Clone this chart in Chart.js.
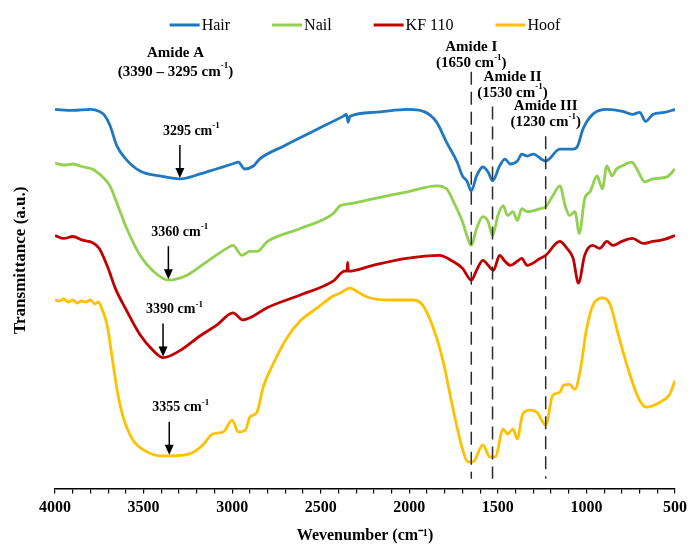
<!DOCTYPE html>
<html>
<head>
<meta charset="utf-8">
<title>FTIR spectra</title>
<script src="https://cdn.jsdelivr.net/npm/chart.js@4.4.1/dist/chart.umd.min.js"></script>
<style>
  html, body { margin: 0; padding: 0; background: #ffffff; }
  #wrap { width: 689px; height: 545px; }
</style>
</head>
<body>
<div id="wrap"><canvas id="ftir" width="689" height="545"></canvas></div>
<script>
// Wavenumbers (cm-1) and stacked transmittance (a.u.) for each sample
const hairWavenumber = [4000, 3900, 3800, 3750, 3720, 3690, 3650, 3600, 3520, 3410, 3295, 3180, 3090, 3000, 2965, 2930, 2880, 2845, 2710, 2520, 2375, 2355, 2345, 2335, 2200, 2010, 1920, 1845, 1790, 1730, 1700, 1675, 1650, 1620, 1585, 1555, 1530, 1490, 1460, 1430, 1390, 1365, 1335, 1300, 1230, 1150, 1075, 1050, 1020, 965, 885, 795, 740, 700, 665, 625, 560, 500];
const hairTransmittance = [382, 381, 382, 380, 376, 366, 345, 332, 320, 315, 312, 317, 322, 327, 329, 322, 325, 332, 345, 362, 375, 377, 369, 375, 379, 382, 380, 369, 349, 329, 315, 310, 300, 315, 324, 319, 310, 325, 332, 327, 330, 337, 335, 337, 330, 342, 342, 345, 362, 377, 382, 380, 377, 379, 370, 377, 379, 382];

const nailWavenumber = [4000, 3950, 3900, 3840, 3790, 3750, 3720, 3690, 3645, 3595, 3520, 3445, 3360, 3255, 3140, 3030, 2995, 2945, 2900, 2860, 2800, 2615, 2430, 2390, 2335, 2205, 2010, 1845, 1790, 1740, 1700, 1675, 1650, 1620, 1585, 1555, 1530, 1500, 1470, 1445, 1415, 1390, 1365, 1335, 1260, 1230, 1190, 1150, 1120, 1095, 1065, 1040, 1010, 980, 940, 910, 885, 855, 830, 800, 745, 715, 670, 625, 545, 500];
const nailTransmittance = [328, 326, 327, 324, 322, 317, 312, 305, 285, 262, 235, 219, 210, 215, 229, 242, 245, 235, 239, 239, 249, 262, 277, 285, 287, 292, 299, 305, 302, 285, 269, 255, 245, 262, 274, 269, 255, 275, 285, 275, 279, 270, 282, 279, 282, 284, 295, 305, 285, 275, 279, 257, 292, 299, 315, 302, 325, 315, 322, 325, 329, 322, 309, 312, 314, 322];

const kfWavenumber = [4000, 3950, 3900, 3840, 3790, 3750, 3700, 3660, 3595, 3520, 3445, 3390, 3295, 3180, 3085, 2995, 2940, 2880, 2805, 2615, 2430, 2365, 2352, 2348, 2344, 2205, 2015, 1830, 1755, 1700, 1650, 1620, 1585, 1555, 1525, 1490, 1460, 1430, 1390, 1365, 1335, 1260, 1230, 1150, 1110, 1075, 1045, 1010, 965, 925, 885, 850, 800, 740, 680, 625, 560, 500];
const kfTransmittance = [255, 252, 254, 250, 248, 242, 222, 202, 179, 155, 139, 132, 139, 154, 165, 177, 170, 174, 182, 195, 209, 219, 219, 228, 219, 225, 232, 235, 229, 222, 210, 220, 230, 225, 220, 235, 229, 225, 229, 232, 225, 232, 235, 249, 242, 232, 207, 235, 245, 242, 249, 245, 249, 252, 247, 249, 251, 255];

const hoofWavenumber = [4000, 3975, 3950, 3925, 3900, 3875, 3850, 3825, 3800, 3775, 3755, 3735, 3705, 3675, 3645, 3615, 3560, 3480, 3405, 3355, 3240, 3165, 3110, 3050, 3000, 2965, 2925, 2900, 2860, 2825, 2770, 2690, 2615, 2520, 2430, 2390, 2335, 2280, 2220, 2110, 1980, 1925, 1865, 1810, 1755, 1700, 1670, 1640, 1585, 1545, 1515, 1470, 1445, 1415, 1390, 1360, 1320, 1280, 1230, 1190, 1150, 1130, 1095, 1065, 1035, 1000, 965, 905, 865, 820, 755, 700, 660, 585, 530, 500];
const hoofTransmittance = [190, 189, 191, 188, 190, 187, 189, 188, 190, 186, 188, 181, 164, 129, 95, 72, 49, 37, 33, 33, 35, 44, 55, 57, 69, 57, 59, 72, 77, 102, 125, 152, 169, 182, 194, 197, 202, 197, 192, 190, 190, 185, 162, 129, 82, 40, 27, 27, 44, 32, 32, 60, 55, 60, 50, 75, 79, 77, 64, 94, 97, 104, 105, 100, 119, 160, 184, 192, 185, 155, 115, 89, 82, 87, 95, 109];

const seriesNames = ['Hair', 'Nail', 'KF 110', 'Hoof'];
const seriesColors = ['#1F78C1', '#92D050', '#C00000', '#FFC000'];

// Peak positions marked with arrows (cm-1), one per sample
const peakWavenumbers = [3295, 3360, 3390, 3355];

// Amide band assignments (cm-1)
const amideNames = ['Amide I', 'Amide II', 'Amide III'];
const amideWavenumbers = [1650, 1530, 1230];

const xTickStep = 100;
const xLabelStep = 500;

const FONT = '"Liberation Serif", "Times New Roman", serif';

function toPoints(xs, ys) {
  return xs.map((v, i) => ({ x: v, y: ys[i] }));
}

const seriesData = [
  toPoints(hairWavenumber, hairTransmittance),
  toPoints(nailWavenumber, nailTransmittance),
  toPoints(kfWavenumber, kfTransmittance),
  toPoints(hoofWavenumber, hoofTransmittance)
];

// draws "base" + superscript + "tail"; align: 'left' or 'center'
function drawSupText(ctx, base, sup, tail, x, y, size, align) {
  const big = 'bold ' + size + 'px ' + FONT;
  const small = 'bold ' + Math.round(size * 0.62) + 'px ' + FONT;
  ctx.font = big;
  const wb = ctx.measureText(base).width;
  const wt = ctx.measureText(tail).width;
  ctx.font = small;
  const ws = ctx.measureText(sup).width;
  const total = wb + ws + wt;
  let x0 = align === 'center' ? x - total / 2 : x;
  ctx.textAlign = 'left';
  ctx.textBaseline = 'middle';
  ctx.fillStyle = '#000';
  ctx.font = big;
  ctx.fillText(base, x0, y);
  ctx.font = small;
  ctx.fillText(sup, x0 + wb, y - size * 0.38);
  ctx.font = big;
  ctx.fillText(tail, x0 + wb + ws, y);
}

function drawCenteredText(ctx, text, x, y, size) {
  ctx.font = 'bold ' + size + 'px ' + FONT;
  ctx.textAlign = 'center';
  ctx.textBaseline = 'middle';
  ctx.fillStyle = '#000';
  ctx.fillText(text, x, y);
}

const notesPlugin = {
  id: 'spectraNotes',
  afterDatasetsDraw(chart) {
    const { ctx, chartArea, scales: { x, y } } = chart;
    ctx.save();

    // legend row, centred over the plot area
    ctx.font = '16px ' + FONT;
    const lineLen = 30, gap = 2, spacing = 42;
    const widths = seriesNames.map(n => lineLen + gap + ctx.measureText(n).width);
    const totalW = widths.reduce((a, b) => a + b, 0) + spacing * (widths.length - 1);
    let lx = (chartArea.left + chartArea.right) / 2 - totalW / 2;
    const ly = chartArea.top - 7;
    seriesNames.forEach((n, i) => {
      ctx.strokeStyle = seriesColors[i];
      ctx.lineWidth = 3;
      ctx.beginPath();
      ctx.moveTo(lx, ly);
      ctx.lineTo(lx + lineLen, ly);
      ctx.stroke();
      ctx.fillStyle = '#000';
      ctx.textAlign = 'left';
      ctx.textBaseline = 'middle';
      ctx.font = '16px ' + FONT;
      ctx.fillText(n, lx + lineLen + gap, ly + 1);
      lx += widths[i] + spacing;
    });

    // peak arrows pointing at each sample's O-H/N-H band minimum
    const wnLists = [hairWavenumber, nailWavenumber, kfWavenumber, hoofWavenumber];
    const tLists = [hairTransmittance, nailTransmittance, kfTransmittance, hoofTransmittance];
    peakWavenumbers.forEach((wn, i) => {
      const idx = wnLists[i].indexOf(wn);
      const px = x.getPixelForValue(wn);
      const tipY = y.getPixelForValue(tLists[i][idx]) - 1;
      const tailY = tipY - 33;
      ctx.strokeStyle = '#000';
      ctx.fillStyle = '#000';
      ctx.lineWidth = 1.5;
      ctx.beginPath();
      ctx.moveTo(px, tailY);
      ctx.lineTo(px, tipY - 8);
      ctx.stroke();
      ctx.beginPath();
      ctx.moveTo(px, tipY);
      ctx.lineTo(px - 4.5, tipY - 10);
      ctx.lineTo(px + 4.5, tipY - 10);
      ctx.closePath();
      ctx.fill();
      drawSupText(ctx, wn + ' cm', '-1', '', px - 17, tipY - 47, 14, 'left');
    });

    // amide band markers: dashed guides and labels
    const guideTops = [420, 385, 355];
    const titleY = [445, 415, 385];
    const labelShift = [0, 20, 0];
    amideWavenumbers.forEach((wn, i) => {
      const px = x.getPixelForValue(wn);
      ctx.strokeStyle = '#2b2b2b';
      ctx.lineWidth = 1.5;
      ctx.setLineDash([13, 7]);
      ctx.beginPath();
      ctx.moveTo(px, y.getPixelForValue(guideTops[i]));
      ctx.lineTo(px, y.getPixelForValue(10));
      ctx.stroke();
      ctx.setLineDash([]);
      const cx = px + labelShift[i];
      const ty = y.getPixelForValue(titleY[i]);
      drawCenteredText(ctx, amideNames[i], cx, ty, 15);
      drawSupText(ctx, '(' + wn + ' cm', '-1', ')', cx, ty + 16, 15, 'center');
    });

    // Amide A range label
    const rangeHi = peakWavenumbers[2], rangeLo = peakWavenumbers[0];
    const ax = x.getPixelForValue((rangeHi + rangeLo) / 2) + 4;
    const ay = y.getPixelForValue(439);
    drawCenteredText(ctx, 'Amide A', ax, ay, 15);
    drawSupText(ctx, '(' + rangeHi + ' \u2013 ' + rangeLo + ' cm', '-1', ')', ax, ay + 19, 15, 'center');

    ctx.restore();
  }
};

new Chart(document.getElementById('ftir'), {
  type: 'line',
  data: {
    datasets: seriesNames.map((name, i) => ({
      label: name,
      data: seriesData[i],
      borderColor: seriesColors[i],
      backgroundColor: seriesColors[i],
      borderWidth: 2.8,
      pointRadius: 0,
      pointHoverRadius: 0,
      cubicInterpolationMode: 'monotone',
      fill: false
    }))
  },
  options: {
    responsive: false,
    animation: false,
    events: [],
    layout: { padding: { left: 6, right: 14, top: 32, bottom: 0 } },
    plugins: {
      legend: { display: false },
      tooltip: { enabled: false }
    },
    scales: {
      x: {
        type: 'linear',
        reverse: true,
        min: 500,
        max: 4000,
        ticks: {
          stepSize: xTickStep,
          autoSkip: false,
          maxRotation: 0,
          padding: 5,
          color: '#000',
          font: { family: FONT, size: 16, weight: 'bold' },
          callback: v => (v % xLabelStep === 0 ? String(v) : '')
        },
        grid: { display: true, drawOnChartArea: false, drawTicks: true, tickLength: 5, color: '#000', lineWidth: 1.2 },
        border: { display: true, color: '#000', width: 1.5 },
        title: {
          display: true,
          text: 'Wevenumber (cm\u207B\u00B9)',
          color: '#000',
          font: { family: FONT, size: 16, weight: 'bold' },
          padding: { top: 3, bottom: 0 }
        },
        afterFit(scale) { scale.paddingRight = 10; }
      },
      y: {
        min: 0,
        max: 460,
        ticks: { display: false },
        grid: { display: false },
        border: { display: false },
        title: {
          display: true,
          text: 'Transmittance (a.u.)',
          color: '#000',
          font: { family: FONT, size: 17, weight: 'bold' },
          padding: { top: 4, bottom: 4 }
        },
        afterFit(scale) { scale.width = 49; }
      }
    }
  },
  plugins: [notesPlugin]
});
</script>
</body>
</html>
